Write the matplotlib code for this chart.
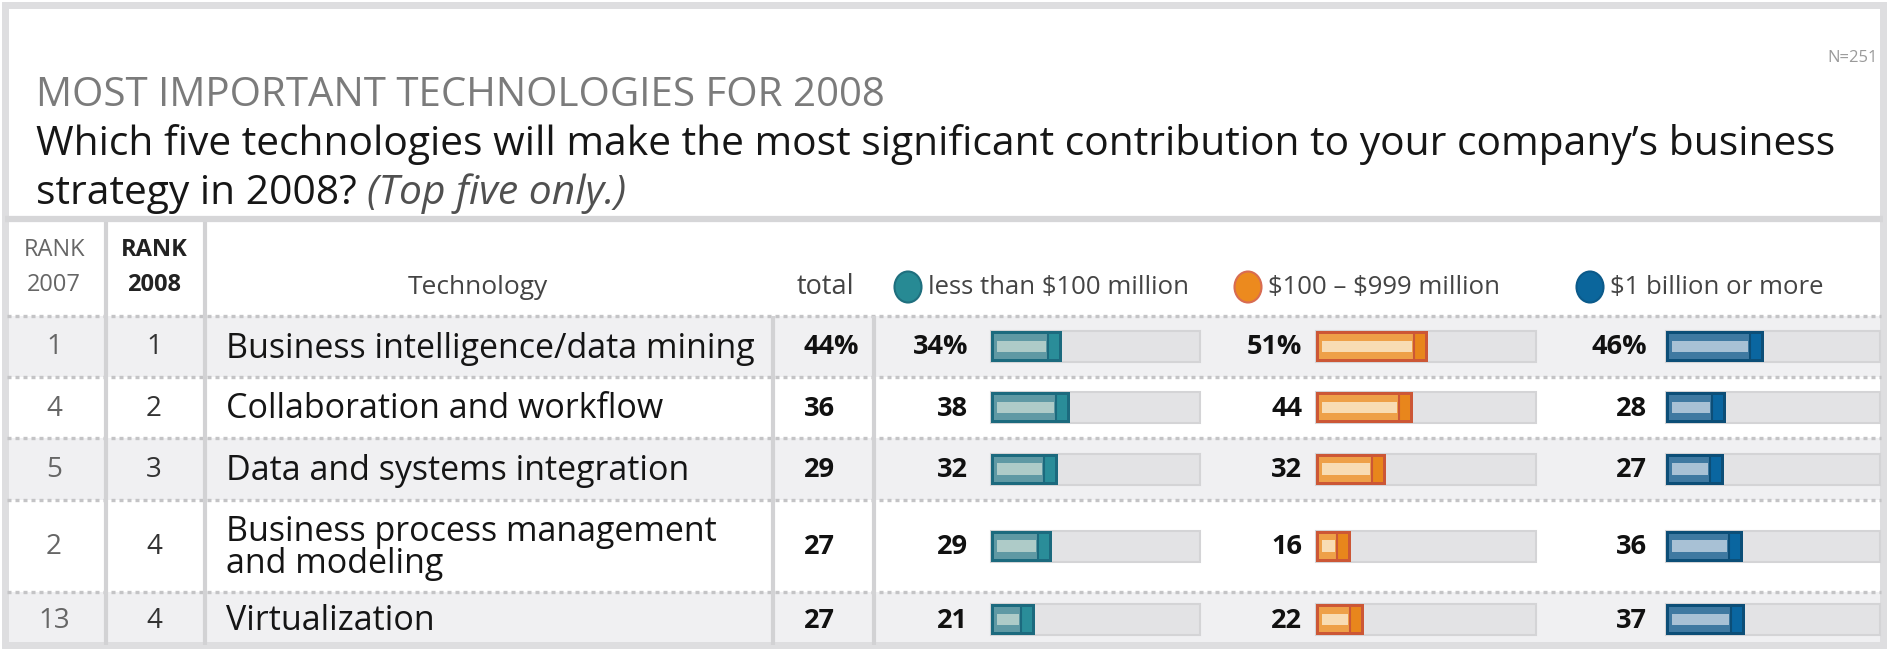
import matplotlib
matplotlib.use("Agg")
import matplotlib.pyplot as plt
from matplotlib.patches import Ellipse, Rectangle

# ---- data ----
rank_2007 = [1, 4, 5, 2, 13]
rank_2008 = [1, 2, 3, 4, 4]
technologies = [
    "Business intelligence/data mining",
    "Collaboration and workflow",
    "Data and systems integration",
    "Business process management\nand modeling",
    "Virtualization",
]
total = [44, 36, 29, 27, 27]
less_100m = [34, 38, 32, 29, 21]
mid_100_999m = [51, 44, 32, 16, 22]
over_1b = [46, 28, 27, 36, 37]
segment_labels = ["less than $100 million", "$100 \u2013 $999 million", "$1 billion or more"]

W, H = 1891, 649
MAIN = ["Open Sans", "DejaVu Sans"]
NARROW = ["Liberation Sans Narrow", "Open Sans", "DejaVu Sans"]

# layout (pixels)
row_edges = [316, 377, 438, 500, 592, 647]
seg_text_right = [968, 1302, 1647]
seg_bar_left = [991, 1316, 1666]
seg_track = [209, 220, 214]
legend_x = [908, 1248, 1590]
BAR_H = 31

# colours: border, body, stripe, cap
seg_styles = [
    ("#1c6a7e", "#5f99a4", "#aecbc8", "#2a8d99"),
    ("#cc5736", "#eea048", "#f8dcb4", "#e8861c"),
    ("#0c4e77", "#3f79a1", "#a8c1d5", "#0a66a0"),
]
dot_colors = [("#278a94", "#1f6f7e"), ("#ec8a1e", "#d86c52"), ("#0b669c", "#0b5a8a")]

fig = plt.figure(figsize=(W / 100, H / 100), dpi=100)
ax = fig.add_axes([0, 0, 1, 1])
ax.set_xlim(0, W)
ax.set_ylim(H, 0)
ax.axis("off")

# outer frame and title separator
ax.add_patch(Rectangle((5, 5), 1878, 640, fill=False, edgecolor="#dedee0", lw=5))
ax.hlines(219, 5, 1883, color="#d6d6d8", lw=4.5)

ax.text(1878, 58, "N=251", ha="right", va="center", fontsize=12, color="#9a9a9a", family=NARROW)
ax.text(36, 106, "MOST IMPORTANT TECHNOLOGIES FOR 2008", ha="left", va="baseline",
        fontsize=29, color="#7b7b7b", family=MAIN)
ax.text(36, 155, "Which five technologies will make the most significant contribution to your company\u2019s business",
        ha="left", va="baseline", fontsize=29.3, color="#161616", weight="medium", family=MAIN)
t = ax.text(36, 204, "strategy in 2008? ", ha="left", va="baseline", fontsize=29.3, color="#161616",
            weight="medium", family=MAIN)
ax.annotate("(Top five only.)", xycoords=t, xy=(1, 0), va="bottom", ha="left",
            fontsize=29.3, color="#505050", style="italic", family=MAIN)

# row backgrounds and dotted separators
for i in range(len(technologies)):
    if i % 2 == 0:
        ax.add_patch(Rectangle((7, row_edges[i]), 1874, row_edges[i + 1] - row_edges[i],
                               color="#f0f0f2", lw=0, zorder=0))
for y in row_edges[:-1]:
    ax.hlines(y, 7, 1881, color="#c4c4c6", lw=2.4, linestyles=(0, (1.2, 1.2)), zorder=1)

# vertical column separators
ax.vlines([106, 205], 222, 645, color="#d2d2d4", lw=3, zorder=1)
ax.vlines([773, 874], row_edges[0], 645, color="#d2d2d4", lw=3, zorder=1)

# header
ax.text(54, 250, "RANK", ha="center", va="center", fontsize=17, color="#666666", family=NARROW)
ax.text(54, 285, "2007", ha="center", va="center", fontsize=17, color="#666666", family=NARROW)
ax.text(154, 250, "RANK", ha="center", va="center", fontsize=17, color="#222222", weight="bold", family=NARROW)
ax.text(154, 285, "2008", ha="center", va="center", fontsize=17, color="#222222", weight="bold", family=NARROW)
ax.text(478, 287, "Technology", ha="center", va="center", fontsize=19, color="#444444", family=NARROW)
ax.text(825, 287, "total", ha="center", va="center", fontsize=19.5, color="#444444", family=NARROW)
for k, lab in enumerate(segment_labels):
    fc, ec = dot_colors[k]
    ax.add_patch(Ellipse((legend_x[k], 287), 27, 31, facecolor=fc, edgecolor=ec, lw=1.5, zorder=3))
    ax.text(legend_x[k] + 20, 287, lab, ha="left", va="center", fontsize=18.5, color="#444444",
            family=NARROW, parse_math=False)


def draw_bar(x0, yc, value, track, style):
    border, body, stripe, cap = style
    length = value * track / 100.0
    ax.barh(yc, track, left=x0, height=BAR_H, color="#e3e3e5", edgecolor="#d4d4d6", lw=1.5, zorder=2)
    ax.barh(yc, length, left=x0, height=BAR_H, color=border, lw=0, zorder=3)
    ax.barh(yc, length - 6, left=x0 + 3, height=BAR_H - 6, color=body, lw=0, zorder=4)
    ax.barh(yc, max(length - 22, 2), left=x0 + 6, height=BAR_H * 0.36, color=stripe, lw=0, zorder=5)
    ax.barh(yc, 10, left=x0 + length - 13, height=BAR_H - 6, color=cap, lw=0, zorder=5)
    ax.vlines(x0 + length - 14, yc - BAR_H / 2 + 3, yc + BAR_H / 2 - 3, color=border, lw=1.5, zorder=6)


series = [less_100m, mid_100_999m, over_1b]
for i, tech in enumerate(technologies):
    yc = (row_edges[i] + row_edges[i + 1]) / 2
    pct = "%" if i == 0 else ""
    ax.text(54, yc + 1, str(rank_2007[i]), ha="center", va="center", fontsize=20, color="#666666", family=NARROW)
    ax.text(154, yc + 1, str(rank_2008[i]), ha="center", va="center", fontsize=20, color="#333333", family=NARROW)
    ax.text(226, yc + 2, tech, ha="left", va="center", fontsize=24.5, color="#151515", family=MAIN,
            linespacing=0.95)
    ax.text(804, yc + 1, f"{total[i]}{pct}", ha="left", va="center", fontsize=19.5, color="#111111",
            weight="bold", family=MAIN)
    for k, vals in enumerate(series):
        ax.text(seg_text_right[k], yc + 1, f"{vals[i]}{pct}", ha="right", va="center", fontsize=19.5,
                color="#111111", weight="bold", family=MAIN)
        draw_bar(seg_bar_left[k], yc, vals[i], seg_track[k], seg_styles[k])

fig.savefig("out.png", dpi=100)
